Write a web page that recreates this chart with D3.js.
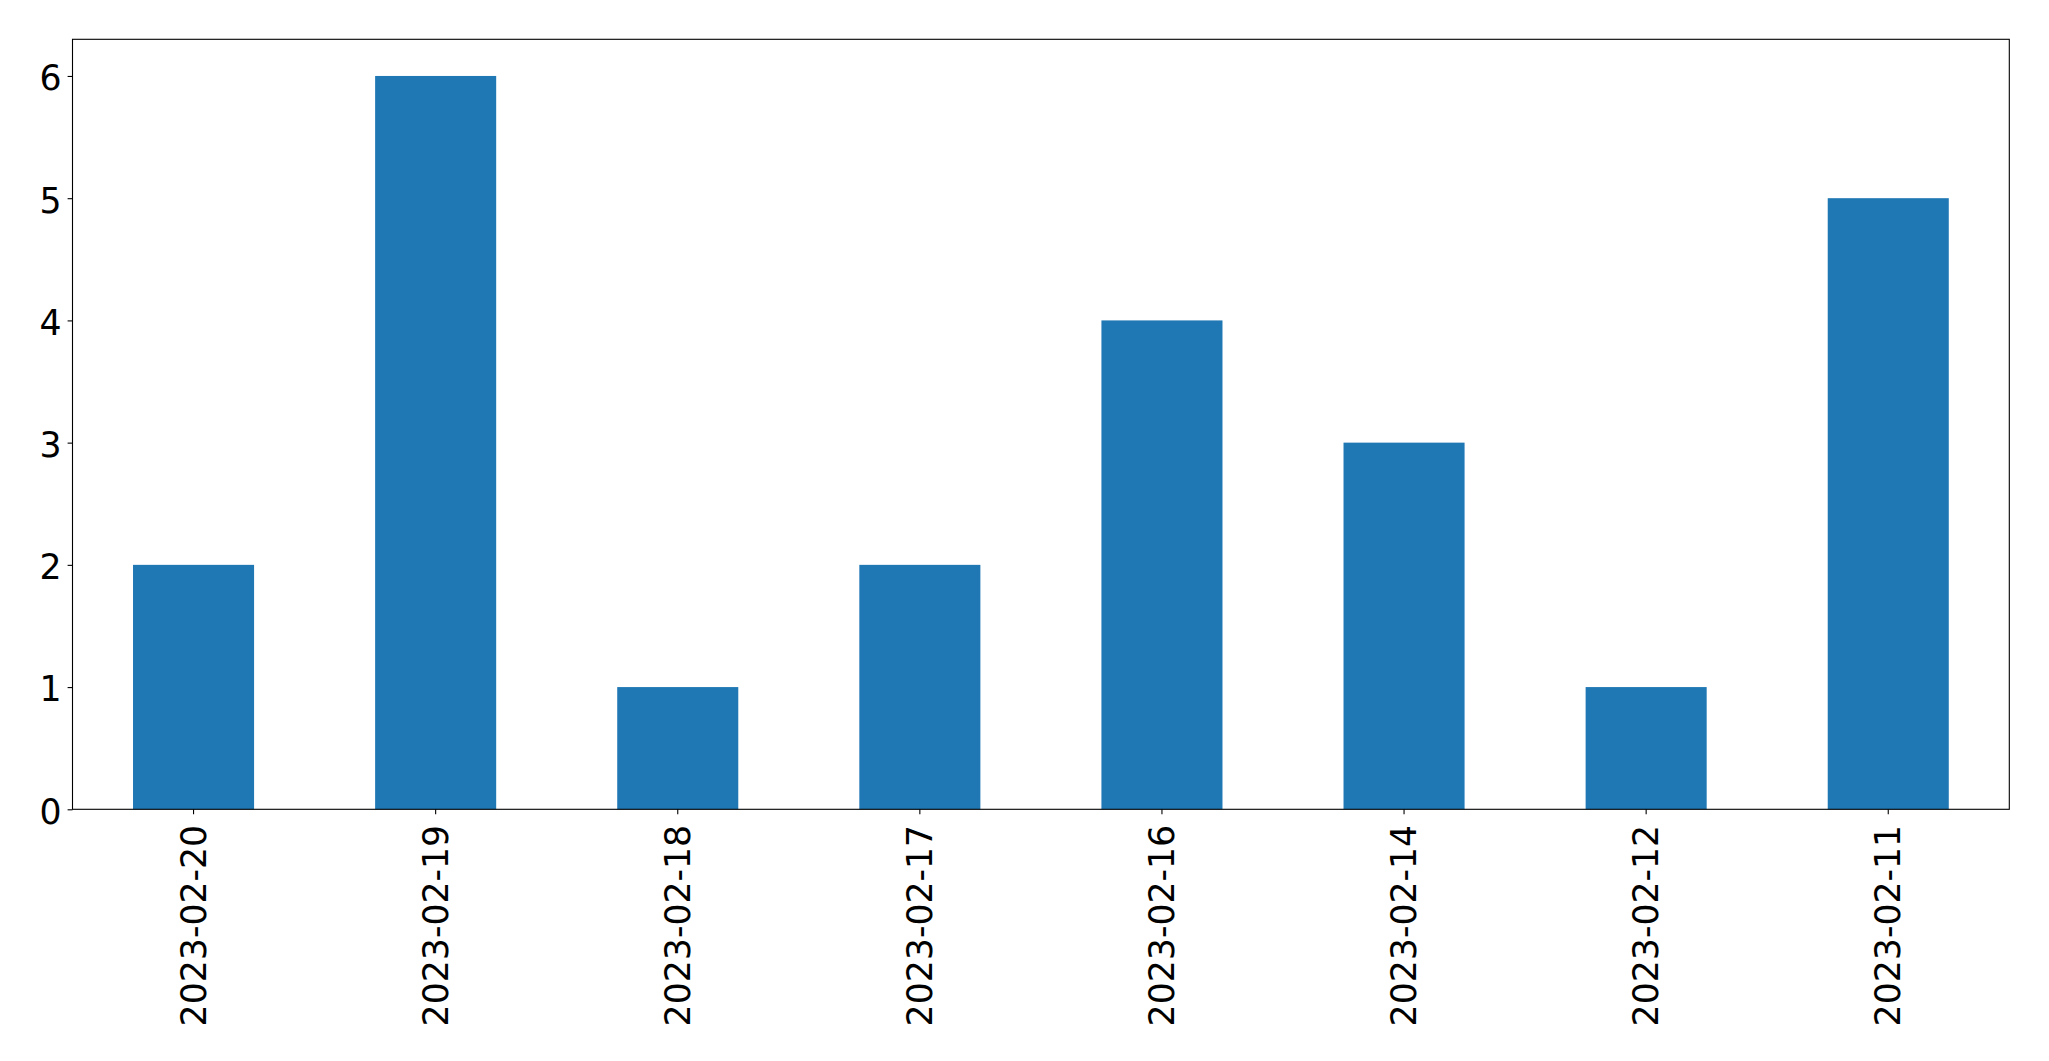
<!DOCTYPE html>
<html>
<head>
<meta charset="utf-8">
<script src="https://cdn.jsdelivr.net/npm/d3@7"></script>
<style>
  html, body { margin: 0; padding: 0; background: #fff; }
  svg { display: block; }
  text { font-family: "DejaVu Sans", sans-serif; fill: #000; }
</style>
</head>
<body>
<svg id="chart" width="2049" height="1061"></svg>
<script>
const categories = ["2023-02-20", "2023-02-19", "2023-02-18", "2023-02-17", "2023-02-16", "2023-02-14", "2023-02-12", "2023-02-11"];
const values = [2, 6, 1, 2, 4, 3, 1, 5];
const yTicks = [0, 1, 2, 3, 4, 5, 6];

const W = 2049, H = 1061;
const margin = { left: 72.5, right: W - 2009.3, top: 39.3, bottom: H - 809.3 };
const svg = d3.select("#chart");
const fontSize = 34.7;

const x = d3.scaleBand().domain(categories)
  .range([margin.left, W - margin.right])
  .paddingInner(0.5).paddingOuter(0.25);
const y = d3.scaleLinear().domain([0, d3.max(values) * 1.05])
  .range([H - margin.bottom, margin.top]);

svg.append("g").selectAll("rect").data(values).join("rect")
  .attr("x", (d, i) => x(categories[i]))
  .attr("width", x.bandwidth())
  .attr("y", d => y(d))
  .attr("height", d => y(0) - y(d))
  .attr("fill", "#1f77b4");

// frame
svg.append("rect")
  .attr("x", margin.left).attr("y", margin.top)
  .attr("width", W - margin.right - margin.left)
  .attr("height", H - margin.bottom - margin.top)
  .attr("fill", "none").attr("stroke", "#000").attr("stroke-width", 1.1);

// y axis
const yAxis = d3.axisLeft(y).tickValues(yTicks).tickFormat(d3.format("d")).tickSize(4.9).tickPadding(6);
const gy = svg.append("g").attr("transform", `translate(${margin.left},0)`).call(yAxis);
gy.select(".domain").remove();
gy.selectAll(".tick line").attr("stroke", "#000").attr("stroke-width", 1.1);
gy.selectAll(".tick text")
  .attr("font-size", fontSize).attr("font-family", "DejaVu Sans, sans-serif")
  .attr("dy", "0.4em").attr("fill", "#000");

// x axis
const xAxis = d3.axisBottom(x).tickSize(4.9).tickPadding(0);
const gx = svg.append("g").attr("transform", `translate(0,${H - margin.bottom})`).call(xAxis);
gx.select(".domain").remove();
gx.selectAll(".tick line").attr("stroke", "#000").attr("stroke-width", 1.1);
gx.selectAll(".tick text")
  .attr("font-size", fontSize).attr("font-family", "DejaVu Sans, sans-serif")
  .attr("fill", "#000")
  .attr("text-anchor", "end")
  .attr("y", 0).attr("x", 0)
  .attr("dy", "0.35em")
  .attr("transform", "translate(0,15.5) rotate(-90)");
</script>
</body>
</html>
